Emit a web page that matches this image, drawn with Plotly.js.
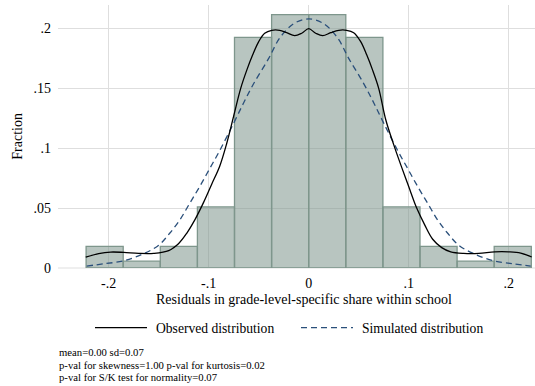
<!DOCTYPE html>
<html>
<head>
<meta charset="utf-8">
<script src="https://cdn.plot.ly/plotly-3.0.1.min.js"></script>
<style>html,body{margin:0;padding:0;background:#fff;}#chart{width:535px;height:386px;}</style>
</head>
<body>
<div id="chart"></div>
<script>
// Histogram bins (fraction per bin)
const binCenters = [-0.20405, -0.16695, -0.12985, -0.09275, -0.05565, -0.01855, 0.01855, 0.05565, 0.09275, 0.12985, 0.16695, 0.20405];
const binFraction = [0.018, 0.0057, 0.018, 0.051, 0.1925, 0.2115, 0.2115, 0.1925, 0.051, 0.018, 0.0057, 0.018];
const binWidth = 0.0371;

// Observed distribution (kernel density)
const obsX = [-0.223, -0.210, -0.198, -0.185, -0.170, -0.155, -0.140, -0.130, -0.122, -0.114, -0.105, -0.097, -0.089, -0.082, -0.075, -0.068, -0.062, -0.056, -0.050, -0.044, -0.037, -0.029, -0.022, -0.014, -0.007, 0, 0.007, 0.014, 0.022, 0.030, 0.038, 0.045, 0.052, 0.058, 0.064, 0.070, 0.077, 0.085, 0.093, 0.100, 0.108, 0.116, 0.124, 0.133, 0.142, 0.155, 0.170, 0.186, 0.200, 0.212, 0.223];
const obsY = [0.009, 0.012, 0.0133, 0.0130, 0.0122, 0.0122, 0.0145, 0.0205, 0.029, 0.040, 0.055, 0.070, 0.085, 0.104, 0.127, 0.150, 0.165, 0.178, 0.189, 0.196, 0.1985, 0.1985, 0.1965, 0.194, 0.196, 0.1998, 0.196, 0.194, 0.1965, 0.1985, 0.1985, 0.1965, 0.189, 0.178, 0.165, 0.150, 0.124, 0.103, 0.084, 0.068, 0.050, 0.036, 0.024, 0.017, 0.0135, 0.0122, 0.0122, 0.0135, 0.0135, 0.0125, 0.0092];

// Simulated distribution
const simX = [-0.222, -0.205, -0.185, -0.165, -0.150, -0.139, -0.129, -0.119, -0.109, -0.099, -0.089, -0.075, -0.065, -0.055, -0.040, -0.029, -0.015, 0, 0.015, 0.029, 0.040, 0.055, 0.065, 0.075, 0.089, 0.099, 0.109, 0.119, 0.129, 0.139, 0.150, 0.165, 0.185, 0.205, 0.222];
const simY = [0.0016, 0.0035, 0.0060, 0.0120, 0.019, 0.029, 0.040, 0.054, 0.068, 0.083, 0.098, 0.121, 0.138, 0.154, 0.175, 0.192, 0.204, 0.208, 0.204, 0.192, 0.175, 0.154, 0.138, 0.121, 0.098, 0.083, 0.068, 0.054, 0.040, 0.029, 0.019, 0.0120, 0.0060, 0.0035, 0.0016];

const xTickVals = [-0.2, -0.1, 0, 0.1, 0.2];
const xTickText = ['-.2', '-.1', '0', '.1', '.2'];
const yTickVals = [0, 0.05, 0.1, 0.15, 0.2];
const yTickText = ['0', '.05', '.1', '.15', '.2'];

const xTitle = 'Residuals in grade-level-specific share within school';
const yTitle = 'Fraction';
const legendNames = ['Observed distribution', 'Simulated distribution'];
const notes = ['mean=0.00 sd=0.07', 'p-val for skewness=1.00 p-val for kurtosis=0.02', 'p-val for S/K test for normality=0.07'];

const FONT = 'Liberation Serif, Times New Roman, serif';
const navy = '#2a4f7a';
const FS = 14;

// pixel helpers for paper coordinates (plot area: x 58..535, y 5..268.5)
const L = 58, PW = 477, T = 5, PH = 263.5;
const px = v => (v - L) / PW;
const py = v => (T + PH - v) / PH;

const traces = [
  {type: 'bar', x: binCenters, y: binFraction, width: binWidth,
   marker: {color: 'rgba(126,150,140,0.55)', line: {color: 'rgb(126,150,140)', width: 1.3}},
   hoverinfo: 'skip', showlegend: false, name: 'Fraction'},
  {type: 'scatter', mode: 'lines', x: simX, y: simY, name: legendNames[1],
   line: {color: navy, width: 1.3, dash: '6px,4px', shape: 'spline', smoothing: 1}, showlegend: false},
  {type: 'scatter', mode: 'lines', x: obsX, y: obsY, name: legendNames[0],
   line: {color: '#000', width: 1.3, shape: 'spline', smoothing: 1}, showlegend: false}
];

const annotations = [
  {text: xTitle, xref: 'paper', yref: 'paper', x: px(303.7), y: py(300.5), xanchor: 'center', yanchor: 'middle', showarrow: false, font: {family: FONT, size: FS, color: '#000'}},
  {text: yTitle, xref: 'paper', yref: 'paper', x: px(18), y: py(137), xanchor: 'center', yanchor: 'middle', textangle: -90, showarrow: false, font: {family: FONT, size: FS, color: '#000'}},
  {text: legendNames[0], xref: 'paper', yref: 'paper', x: px(154), y: py(329.5), xanchor: 'left', yanchor: 'middle', showarrow: false, font: {family: FONT, size: 13.6, color: '#000'}},
  {text: legendNames[1], xref: 'paper', yref: 'paper', x: px(360), y: py(329.5), xanchor: 'left', yanchor: 'middle', showarrow: false, font: {family: FONT, size: 13.6, color: '#000'}}
];
notes.forEach((n, i) => annotations.push({text: n, xref: 'paper', yref: 'paper', x: px(57), y: py(353 + i * 12.3), xanchor: 'left', yanchor: 'middle', showarrow: false, font: {family: FONT, size: 10.7, color: '#000'}}));

const shapes = [
  {type: 'line', xref: 'paper', yref: 'paper', x0: px(95), x1: px(147), y0: py(328.3), y1: py(328.3), line: {color: '#000', width: 1.3}},
  {type: 'line', xref: 'paper', yref: 'paper', x0: px(301), x1: px(353), y0: py(328.3), y1: py(328.3), line: {color: navy, width: 1.3, dash: '6px,4px'}}
];

const layout = {
  width: 535, height: 386,
  margin: {l: L, r: 535 - L - PW, t: T, b: 386 - T - PH, pad: 0},
  paper_bgcolor: '#fff', plot_bgcolor: '#fff',
  showlegend: false, barmode: 'overlay',
  font: {family: FONT, size: FS, color: '#000'},
  xaxis: {range: [-0.2507, 0.2263], tickvals: xTickVals, ticktext: xTickText, showgrid: true, gridcolor: '#dedede', gridwidth: 1,
          zeroline: false, showline: false, ticks: '', ticklabelstandoff: 5, tickfont: {family: FONT, size: FS, color: '#000'}, fixedrange: true},
  yaxis: {range: [0, 0.2196], tickvals: yTickVals, ticktext: yTickText, showgrid: true, gridcolor: '#dedede', gridwidth: 1,
          zeroline: true, zerolinecolor: '#efefef', zerolinewidth: 1.5, showline: false, ticks: '', ticklabelstandoff: 6,
          tickfont: {family: FONT, size: FS, color: '#000'}, fixedrange: true},
  annotations: annotations,
  shapes: shapes
};

Plotly.newPlot('chart', traces, layout, {displayModeBar: false, staticPlot: true});
</script>
</body>
</html>
